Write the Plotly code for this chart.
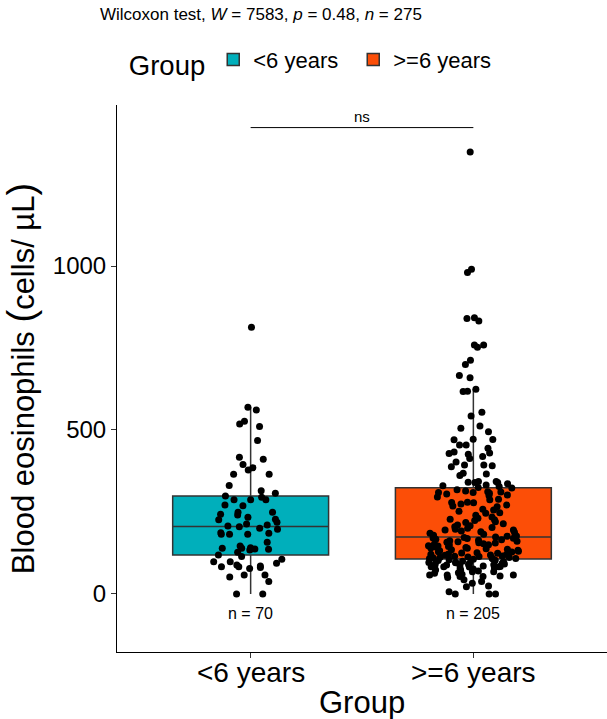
import plotly.graph_objects as go

# ---------------- data ----------------
categories = ["<6 years", ">=6 years"]
group_title = "Group"

young = [
    813, 569, 561, 527, 518, 511, 468, 417, 411, 395, 385, 378, 365, 365, 331, 315, 307, 299,
    287, 295, 287, 287, 271, 269, 249, 241, 243, 249, 234, 228, 226, 219, 213, 210, 200, 197,
    187, 182, 182, 182, 185, 158, 146, 139, 139, 141, 136, 134, 137, 127, 119, 114,
    205, 207,
    106, 98, 98, 94, 88, 85, 83, 83, 78, 81, 58, 58, 52, 38, 0, 0,
]

older = [
    1348, 990, 980, 842, 840, 832, 759, 759, 752, 713, 700, 666, 659, 624, 618, 617, 554, 543,
    512, 505, 495, 472, 471, 470, 454, 454, 444, 433, 430, 428, 426, 419, 413, 402, 393, 393,
    391, 388, 368, 366, 361, 343, 343, 341, 340, 340, 336, 332, 330, 328, 325,
    323, 318, 314, 312, 311, 309, 309, 307, 305, 302, 300, 296, 289, 287, 280, 279, 278, 274,
    271, 268, 266, 258, 256, 252, 248, 246, 240, 235, 231, 228, 226, 224, 220, 218, 214, 210,
    208, 205, 203, 200, 197, 195, 195, 192, 190, 188, 185, 182, 179, 177, 176,
    174,
    172, 171, 170, 169, 167, 165, 164, 162, 161, 159, 158, 156, 155, 153, 152, 150, 149, 147,
    146, 145, 143, 142, 140, 139, 138, 136, 135, 133, 132, 130, 129, 128, 126, 125, 124, 122,
    121, 120, 119, 118, 116, 115, 114, 113, 112, 111, 110, 109, 108, 108,
    107,
    106, 104, 103, 102, 100, 98, 97, 96, 95, 94, 94, 92, 91, 90, 89, 88, 87, 85, 84, 83, 83,
    83, 83, 82, 80, 78, 76, 73, 72, 70, 68, 68, 65, 63, 60, 58, 58, 58, 55, 53, 53, 50, 43,
    38, 33, 24, 22, 7, 0, 0, 0,
]

series = [young, older]
colors = ["#00AFBB", "#FC4E07"]
test_label = "Wilcoxon test, <i>W</i> = 7583, <i>p</i> = 0.48, <i>n</i> = 275"
signif_label = "ns"
y_ticks = [0, 500, 1000]
y_title = ("Blood eosinophils <span style='font-size:38px'>(</span>cells/ µL"
           "<span style='font-size:38px'>)</span>")

FONT = "Arial, 'Liberation Sans', sans-serif"

fig = go.Figure()
for i, (cat, vals, col) in enumerate(zip(categories, series, colors)):
    fig.add_trace(go.Box(
        x=[i + 1] * len(vals),
        y=vals,
        name=cat,
        fillcolor=col,
        line=dict(color="#333333", width=1.5),
        whiskerwidth=0,
        width=0.7,
        boxpoints="all",
        jitter=0.58,
        pointpos=0,
        marker=dict(color="black", size=7, line=dict(width=0)),
        hoverinfo="y",
    ))
    fig.add_annotation(x=i + 1, y=-61, text=f"n = {len(vals)}", showarrow=False,
                       font=dict(size=16, color="black", family=FONT),
                       xref="x", yref="y")
    # category tick label
    fig.add_annotation(x=i + 1, y=-0.0366, xref="x", yref="paper", text=cat,
                       showarrow=False, yanchor="middle",
                       font=dict(size=28, color="black", family=FONT))

# x axis title
fig.add_annotation(x=0.5, y=-0.0932, xref="paper", yref="paper", text=group_title,
                   showarrow=False, yanchor="middle",
                   font=dict(size=31, color="black", family=FONT))

# significance bracket
bracket_y = max(max(s) for s in series) * 1.055
fig.add_shape(type="line", x0=1, x1=2, y0=bracket_y, y1=bracket_y,
              xref="x", yref="y", line=dict(color="black", width=1))
fig.add_annotation(x=1.5, y=bracket_y, text=signif_label, showarrow=False,
                   yanchor="bottom", yshift=1, font=dict(size=15, color="black", family=FONT))

# test subtitle
fig.add_annotation(x=-0.0388, y=1.166, xref="paper", yref="paper", text=test_label,
                   showarrow=False, xanchor="left", yanchor="middle",
                   font=dict(size=17, color="black", family=FONT))

fig.update_layout(
    width=607, height=719,
    margin=dict(l=117, r=0, t=105, b=67, autoexpand=False),
    paper_bgcolor="white", plot_bgcolor="white",
    font=dict(family=FONT, color="black"),
    boxmode="overlay",
    showlegend=True,
    legend=dict(orientation="h", x=0.02, xanchor="left", y=1.079, yanchor="middle",
                title=dict(text=group_title, side="left", font=dict(size=27.5)),
                font=dict(size=22), bgcolor="rgba(0,0,0,0)", entrywidth=95),
    xaxis=dict(range=[0.4, 2.6], tickvals=[1, 2], showticklabels=False,
               showline=True, linecolor="black", linewidth=1, showgrid=False, zeroline=False,
               ticks="outside", ticklen=5, tickcolor="#333333"),
    yaxis=dict(range=[-177, 1491], tickvals=y_ticks,
               showline=True, linecolor="black", linewidth=1, showgrid=False, zeroline=False,
               ticks="outside", ticklen=5, tickcolor="#333333",
               tickfont=dict(size=24, color="black"),
               title=dict(text=y_title, font=dict(size=31), standoff=8),
               automargin=False),
)

fig.write_html("out.html",
               config={"displayModeBar": False},
               post_script="document.body.style.margin='0px';"
                           "document.body.style.overflow='hidden';")
